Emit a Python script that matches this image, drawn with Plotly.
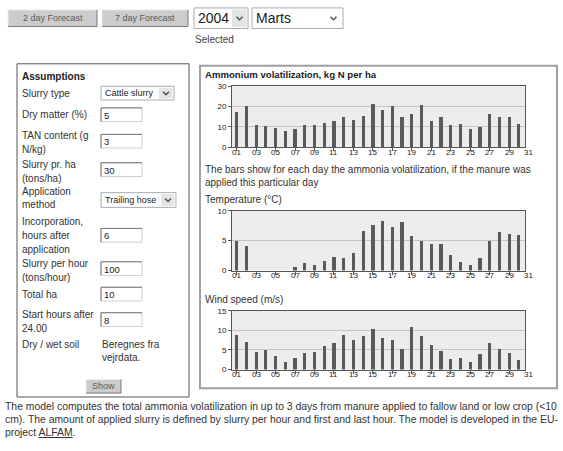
import plotly.graph_objects as go

# ---------------- data ----------------
days = list(range(1, 31))
tick_days = list(range(1, 32, 2))
tick_labels = ["%02d" % d for d in tick_days]

ammonia = [17.4, 19.9, 10.6, 10.1, 9.5, 8.0, 9.0, 10.9, 10.6, 11.9,
           12.6, 14.7, 13.4, 15.3, 21.0, 18.3, 19.9, 14.7, 16.3, 20.7,
           12.9, 14.7, 10.6, 11.4, 9.0, 9.8, 16.3, 14.7, 14.7, 11.4]
temperature = [5.0, 4.2, 0, 0, 0, 0, 0.7, 1.3, 0.9, 1.6,
               2.35, 2.2, 2.9, 6.6, 7.6, 8.4, 7.4, 8.1, 5.8, 5.0,
               4.4, 4.5, 2.7, 1.4, 1.0, 2.2, 5.0, 6.5, 6.1, 6.0]
wind = [9.0, 7.0, 4.5, 5.0, 3.5, 1.9, 3.1, 4.3, 4.5, 6.2,
        6.8, 9.0, 7.7, 8.7, 10.5, 8.0, 7.6, 5.4, 11.0, 8.7,
        6.4, 4.8, 2.8, 3.1, 1.9, 4.0, 6.8, 5.4, 4.4, 2.6]

chart_titles = ["Ammonium volatilization, kg N per ha", "Temperature (°C)", "Wind speed (m/s)"]
caption = ["The bars show for each day the ammonia volatilization, if the manure was",
           "applied this particular day"]

form_labels = [["Slurry type"], ["Dry matter (%)"], ["TAN content (g", "N/kg)"],
               ["Slurry pr. ha", "(tons/ha)"], ["Application", "method"],
               ["Incorporation,", "hours after", "application"],
               ["Slurry per hour", "(tons/hour)"], ["Total ha"],
               ["Start hours after", "24.00"], ["Dry / wet soil"]]
form_values = ["Cattle slurry", "5", "3", "30", "Trailing hose", "6", "100", "10", "8",
               "Beregnes fra<br>vejrdata."]
footer = ["The model computes the total ammonia volatilization in up to 3 days from manure applied to fallow land or low crop (<10",
          "cm). The amount of applied slurry is defined by slurry per hour and first and last hour. The model is developed in the EU-",
          "project <u>ALFAM</u>."]

# ---------------- layout helpers ----------------
W, H = 563, 451
FONT = "Liberation Sans, Arial, sans-serif"


def X(px):
    return px / W


def Y(py):
    return 1 - py / H


shapes = []
annotations = []


def rect(x0, y0, x1, y1, fill="rgba(0,0,0,0)", line="rgba(0,0,0,0)", lw=1):
    shapes.append(dict(type="rect", xref="paper", yref="paper", x0=X(x0), x1=X(x1),
                       y0=Y(y1), y1=Y(y0), fillcolor=fill, line=dict(color=line, width=lw),
                       layer="above"))


def seg(x0, y0, x1, y1, color, lw=1):
    shapes.append(dict(type="line", xref="paper", yref="paper", x0=X(x0), x1=X(x1),
                       y0=Y(y0), y1=Y(y1), line=dict(color=color, width=lw), layer="above"))


def chevron(cx, cy, color="#555"):
    shapes.append(dict(type="path", xref="paper", yref="paper",
                       path="M %f,%f L %f,%f L %f,%f" % (X(cx - 3), Y(cy - 1.5), X(cx), Y(cy + 1.5), X(cx + 3), Y(cy - 1.5)),
                       line=dict(color=color, width=1.5), layer="above"))


def text(x, y, s, size=10, color="#333", bold=False, anchor="left", xref="paper"):
    if bold:
        s = "<b>%s</b>" % s
    annotations.append(dict(xref=xref, yref="paper", x=X(x) if xref == "paper" else x, y=Y(y), text=s,
                            showarrow=False, xanchor=anchor, yanchor="middle", align="left",
                            borderpad=0, font=dict(family=FONT, size=size, color=color)))


def button(x0, y0, x1, y1, label, size=9):
    rect(x0, y0, x1, y1, fill="#cccccc")
    seg(x0, y0, x1, y0, "#eeeeee")
    seg(x0, y0, x0, y1, "#eeeeee")
    seg(x0, y1, x1, y1, "#7a7a7a")
    seg(x1, y0, x1, y1, "#7a7a7a")
    text((x0 + x1) / 2, (y0 + y1) / 2, label, size=size, color="#5a5a5a", anchor="center")


def select(x0, y0, x1, y1, label, arrow_w=15, size=10, grey=True):
    rect(x0, y0, x1, y1, fill="white", line="#a6acb2")
    if grey:
        rect(x1 - arrow_w, y0 + 1.5, x1 - 1.5, y1 - 1.5, fill="#e4e4e4")
    chevron(x1 - arrow_w / 2 - 0.5, (y0 + y1) / 2)
    text(x0 + 3, (y0 + y1) / 2, label, size=size, color="#222")


def inputbox(x0, y0, x1, y1, value):
    rect(x0, y0, x1, y1, fill="white", line="#d0d0d0")
    seg(x0, y0, x1, y0, "#777")
    seg(x0, y0, x0, y1, "#777")
    text(x0 + 2, (y0 + y1) / 2 + 0.5, value, size=9.5, color="#222")


# ---------------- top controls ----------------
button(8, 6, 97, 23, "2 day Forecast")
button(102, 6, 188, 23, "7 day Forecast")
select(194, 4, 248, 25, "2004", arrow_w=16, size=14)
select(252, 4, 343, 25, "Marts", arrow_w=18, size=14, grey=False)
text(194, 36, "Selected", size=10, color="#444")

# ---------------- left panel ----------------
rect(17, 61, 189, 401, fill="white", line="#555")
text(21, 74, "Assumptions", size=10, color="#222", bold=True)

label_y = [[91], [113], [134, 148], [164, 178], [191, 205], [222, 236, 250],
           [265, 279], [296], [317, 331], [347]]
ctrl_y = [91, 113, 140, 169, 200, 236, 270, 296, 322, 354]
ctrl_kind = ["select", "input", "input", "input", "select", "input", "input", "input", "input", "text"]

for lines, ys, cy, kind, val in zip(form_labels, label_y, ctrl_y, ctrl_kind, form_values):
    for ln, yy in zip(lines, ys):
        text(21, yy, ln, size=10, color="#333")
    if kind == "select":
        if val == "Cattle slurry":
            select(101, cy - 7, 174, cy + 7, val, arrow_w=15, size=9)
        else:
            select(101, cy - 7.5, 176, cy + 7.5, val, arrow_w=15, size=9)
    elif kind == "input":
        inputbox(101, cy - 7, 142, cy + 7, val)
    else:
        text(101, cy, val, size=10, color="#333")

button(86, 383, 121, 397, "Show", size=9)

# ---------------- right panel ----------------
rect(200, 63, 557, 392, line="#a0a0a0", lw=2)
text(204, 72, chart_titles[0], size=9.6, color="#222", bold=True)
text(204, 169, caption[0], size=10, color="#333")
text(204, 182, caption[1], size=10, color="#333")
text(204, 199, chart_titles[1], size=10, color="#333")
text(204, 302, chart_titles[2], size=10, color="#333")

# ---------------- footer ----------------
for i, ln in enumerate(footer):
    text(4, 411 + 13 * i, ln, size=10.4, color="#333")

# ---------------- charts ----------------
fig = go.Figure()
series = [ammonia, temperature, wind]
boxes = [(84, 146), (211, 272), (313, 373)]
yranges = [[0, 30], [0, 10], [0, 15]]
ydtick = [10, 5, 5]
XL, XR = 232, 525
xrange_ = [0.52, 30.63]


def day_px(d):
    return XL + (d - xrange_[0]) / (xrange_[1] - xrange_[0]) * (XR - XL)


for i, (vals, (top, bot)) in enumerate(zip(series, boxes)):
    n = "" if i == 0 else str(i + 1)
    fig.add_trace(go.Bar(x=days, y=vals, width=0.33, xaxis="x" + n, yaxis="y" + n,
                         marker=dict(color="#5a5a5a", line=dict(width=0)), showlegend=False,
                         hoverinfo="skip"))
    axis_common = dict(showline=True, mirror=True, linecolor="#555", linewidth=1,
                       ticks="outside", ticklen=3, tickcolor="#555",
                       tickfont=dict(family=FONT, size=8, color="#222"), zeroline=False)
    fig.update_layout(**{
        "xaxis" + n: dict(domain=[X(XL), X(XR)], range=xrange_, anchor="y" + n,
                          tickvals=tick_days, showticklabels=False, showgrid=False, **axis_common),
        "yaxis" + n: dict(domain=[Y(bot), Y(top)], range=yranges[i], dtick=ydtick[i], anchor="x" + n,
                          showgrid=True, gridcolor="#c4c4c4", gridwidth=1, **axis_common),
    })
    for d, lab in zip(tick_days, tick_labels):
        text(day_px(d), bot + 5.5, lab, size=8, color="#222", anchor="center")

fig.update_layout(width=W, height=H, autosize=False, margin=dict(l=0, r=0, t=0, b=0),
                  paper_bgcolor="white", plot_bgcolor="#ececec", bargap=0,
                  shapes=shapes, annotations=annotations, font=dict(family=FONT))
fig.write_html("out.html", config={"displayModeBar": False},
               post_script="document.body.style.margin='0';document.body.style.overflow='hidden';")
